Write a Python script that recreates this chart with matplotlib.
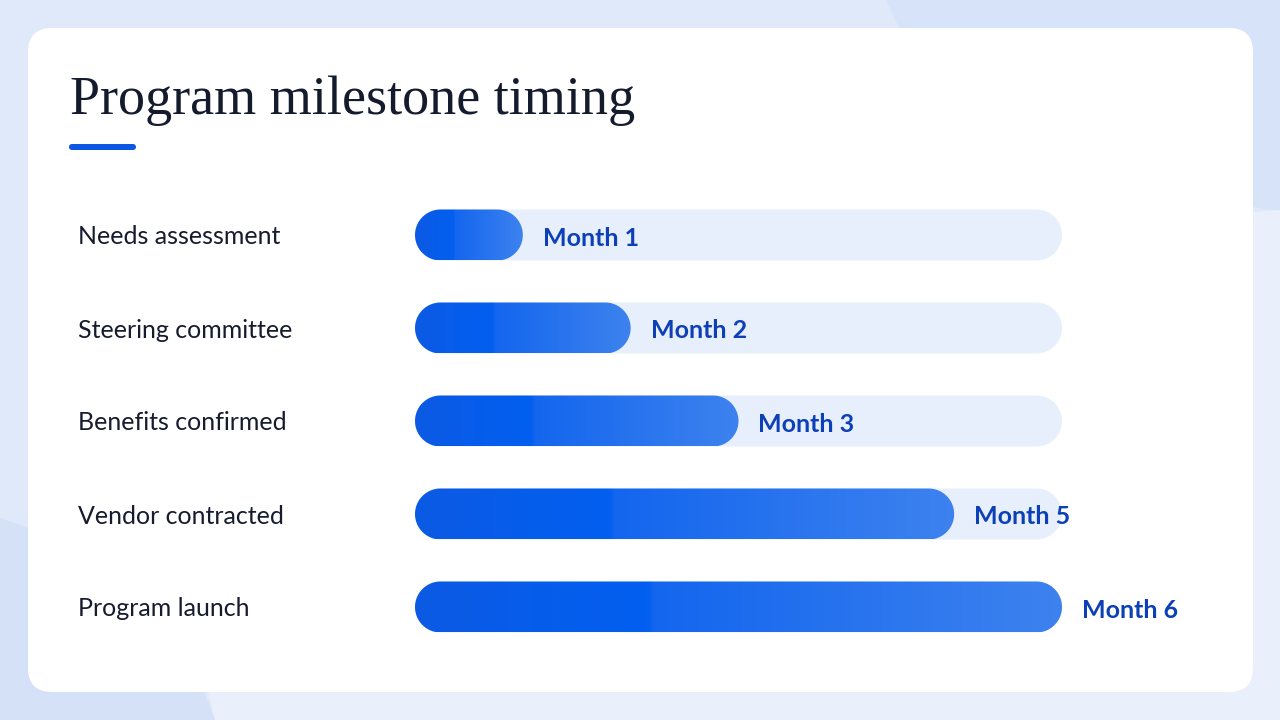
import matplotlib
matplotlib.use("Agg")
import matplotlib.pyplot as plt
import numpy as np
from matplotlib.patches import FancyBboxPatch, Polygon
from matplotlib.colors import LinearSegmentedColormap

# data
milestones = ['Needs assessment', 'Steering committee', 'Benefits confirmed',
              'Vendor contracted', 'Program launch']
months = [1, 2, 3, 5, 6]
month_labels = ['Month 1', 'Month 2', 'Month 3', 'Month 5', 'Month 6']
max_month = 6

title = 'Program milestone timing'

W, H = 1280, 720
fig = plt.figure(figsize=(W / 100, H / 100), dpi=100)

# background + card, in pixel units
bg = fig.add_axes([0, 0, 1, 1])
bg.set_xlim(0, W)
bg.set_ylim(H, 0)
bg.axis('off')
bg.add_patch(plt.Rectangle((0, 0), W, H, color='#e0e9f9', zorder=0))
bg.add_patch(Polygon([(886, 0), (W, 0), (W, 212), (1000, 160), (905, 40)],
                     closed=True, color='#d6e3f8', zorder=1, lw=0))
bg.add_patch(Polygon([(0, 518), (120, 560), (185, 640), (215, H), (0, H)],
                     closed=True, color='#d4e1f7', zorder=1, lw=0))
bg.add_patch(Polygon([(1200, 215), (W, 210), (W, H), (215, H), (200, 660), (1200, 660)],
                     closed=True, color='#e9f0fb', zorder=1, lw=0))
bg.add_patch(FancyBboxPatch((28, 28), 1225, 664,
                            boxstyle='round,pad=0,rounding_size=24',
                            fc='white', ec='none', zorder=2))

# title and accent
fig.text(70 / W, 1 - 114 / H, title, family='Liberation Serif', fontsize=39,
         color='#141b2d', va='baseline', ha='left')
bg.add_patch(FancyBboxPatch((69, 144), 67, 6,
                            boxstyle='round,pad=0,rounding_size=3',
                            fc='#0b57e3', ec='none', zorder=3))

# bar chart axes
x0, x1 = 415, 1062
row0, step = 235, 93
top = row0 - step / 2
bottom = row0 + step * (len(milestones) - 0.5)
ax = fig.add_axes([x0 / W, 1 - bottom / H, (x1 - x0) / W, (bottom - top) / H])
ax.patch.set_alpha(0)
for s in ax.spines.values():
    s.set_visible(False)

px_x = (x1 - x0) / max_month      # pixels per month
px_y = step                       # pixels per row
bar_h = 51 / px_y


def pill(start, end, yc, h, **kw):
    # capsule shape in data units, ends kept circular on screen
    ry = h / 2
    rx = ry * px_y / px_x
    t = np.linspace(-np.pi / 2, np.pi / 2, 40)
    right = np.column_stack([end - rx + rx * np.cos(t), yc + ry * np.sin(t)])
    left = np.column_stack([start + rx - rx * np.cos(t), yc - ry * np.sin(t)])
    return Polygon(np.vstack([right, left]), closed=True, lw=0, **kw)


cmap = LinearSegmentedColormap.from_list('bar', [
    (0.0, '#0c5ae4'), (0.36, '#025ff0'), (0.37, '#1466ee'), (1.0, '#3d82ef')])
grad = np.linspace(0, 1, 256).reshape(1, -1)

for i, m in enumerate(months):
    ax.add_patch(pill(0, max_month, i, bar_h, fc='#e8effc', zorder=1))
    bar = pill(0, m, i, bar_h, fc='none', zorder=2)
    ax.add_patch(bar)
    im = ax.imshow(grad, cmap=cmap, aspect='auto', zorder=2,
                   extent=(0, m, i + bar_h / 2, i - bar_h / 2), interpolation='bilinear')
    im.set_clip_path(bar)
    ax.annotate(month_labels[i], xy=(m, i), xytext=(20, -3), textcoords='offset pixels',
                ha='left', va='center', family='Lato', fontweight='bold',
                fontsize=18, color='#0d40b6', zorder=4)

ax.set_xlim(0, max_month)
ax.set_ylim(len(milestones) - 0.5, -0.5)
ax.set_xticks([])
ax.set_yticks(range(len(milestones)))
ax.set_yticklabels(milestones, ha='left', family='Lato', fontsize=18, color='#161b2e')
ax.tick_params(axis='y', length=0, pad=(x0 - 78) * 72 / 100)

fig.savefig('out.png', dpi=100)
